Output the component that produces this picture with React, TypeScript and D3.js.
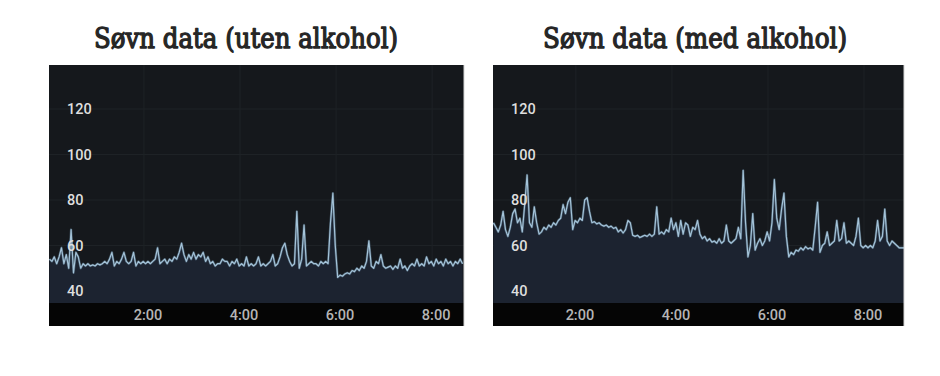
import React from 'react';
import * as d3 from 'd3';

// ---- data ----
const yTicks = [40, 60, 80, 100, 120];
const xTicks = [2, 4, 6, 8];
const xTickLabels = ['2:00', '4:00', '6:00', '8:00'];
const titles = ['Søvn data (uten alkohol)', 'Søvn data (med alkohol)'];
const stepHours = 0.05;
const startWithout = -0.05;
const startWith = 0.2;

const hrWithout = [
  54, 53, 55, 52, 55, 59, 52, 56, 50, 67, 48, 57, 55, 50, 52, 51, 52, 51, 51.5, 51,
  52, 51.5, 52, 53, 52, 54, 57, 51, 53, 52, 54, 57, 53, 52, 53, 57, 51, 53, 52, 53,
  52, 53, 52, 53, 54, 59, 52, 53, 54, 52, 54, 53, 55, 54, 57, 61, 56, 53, 56, 54,
  57, 54, 56, 55, 57, 53, 55, 52, 53, 51, 52, 52, 54, 53, 53, 51, 53, 52, 54, 51,
  52, 51, 55, 51, 52, 51, 52, 55, 51, 52, 51, 52, 53, 56, 51, 52, 55, 59, 61, 56,
  53, 51, 52, 75, 50, 54, 69, 51, 52, 53, 52, 52, 51, 53, 52, 53, 52, 70, 83, 60,
  46, 47, 46.5, 47.5, 48, 47.5, 49, 48.5, 50, 49, 51, 50, 53, 62, 51, 50, 53, 52, 56, 51,
  50, 50.5, 51, 49.5, 51, 50, 54, 50, 51, 49, 51, 52, 51, 54, 51, 52, 51, 55, 52, 53,
  51, 54, 52, 53, 51, 54, 52, 53, 51, 53, 52, 54, 52,
];

const hrWith = [
  70, 68, 66, 69, 75, 67, 64, 68, 74, 76, 70, 72, 66, 78, 91, 70, 68, 77, 70, 65,
  66, 68, 67, 69, 68, 70, 69, 71, 72, 78, 74, 79, 81, 67, 71, 70, 72, 71, 80, 81,
  75, 70, 70.5, 69.5, 70, 69, 68.5, 69, 68, 68.5, 67.5, 68, 66, 67, 65.5, 67, 71, 70, 64.5, 64,
  64.5, 63.5, 64, 64.5, 64, 65, 64, 65, 77, 65, 66, 65, 67, 66, 72, 67, 70, 64, 71, 65,
  70, 69, 64, 68, 67, 71, 65, 63, 64, 62, 63, 61.5, 62, 61, 63, 61, 62, 69, 62, 61,
  62, 63, 68, 63, 93, 70, 55, 60, 74, 58, 61, 63, 60, 62, 66, 62, 70, 89, 72, 67,
  76, 83, 64, 55, 57, 56, 58, 57.5, 59, 58, 59.5, 58.5, 59, 58, 68, 79, 57, 60, 61, 66,
  60, 61, 62, 71, 62, 63, 70, 61, 62, 61, 60, 64, 72, 60, 59, 60, 59, 60, 59, 62,
  71, 62, 64, 76, 62, 60, 62, 61, 60, 59, 59, 59,
];

// ---- layout ----
const W = 940;
const H = 376;
const panelTop = 65;
const plotBottom = 303;
const bandBottom = 326;

type PanelProps = {
  id: string;
  left: number;
  right: number;
  domain: [number, number];
  values: number[];
  start: number;
  title: string;
  titleCx: number;
};

function Panel({ id, left, right, domain, values, start, title, titleCx }: PanelProps) {
  const x = d3.scaleLinear().domain(domain).range([left, right]);
  const y = d3.scaleLinear().domain([40, 120]).range([291, 109]);
  const pts = values.map((v, i) => ({ t: start + i * stepHours, v }));
  const line = d3
    .line<{ t: number; v: number }>()
    .x((d) => x(d.t))
    .y((d) => y(d.v));
  const area = d3
    .area<{ t: number; v: number }>()
    .x((d) => x(d.t))
    .y0(plotBottom)
    .y1((d) => y(d.v));
  const clipId = `clip-${id}`;
  return (
    <g>
      <text
        x={titleCx}
        y={48}
        textAnchor="middle"
        fontFamily="'DejaVu Serif', serif"
        fontWeight="normal"
        fontSize={27}
        fill="#262626"
        stroke="#262626"
        strokeWidth={1.3}
        strokeLinejoin="round"
        textLength={304}
        lengthAdjust="spacingAndGlyphs"
      >
        {title}
      </text>
      <defs>
        <clipPath id={clipId}>
          <rect x={left} y={panelTop} width={right - left} height={plotBottom - panelTop} />
        </clipPath>
      </defs>
      <rect x={left} y={panelTop} width={right - left} height={bandBottom - panelTop} fill="#15181c" />
      {yTicks.map((t) => (
        <line key={`gy${t}`} x1={left} x2={right} y1={y(t)} y2={y(t)} stroke="#1e2226" strokeWidth={1} />
      ))}
      {xTicks.map((t) => (
        <line key={`gx${t}`} x1={x(t) - 4} x2={x(t) - 4} y1={panelTop} y2={plotBottom} stroke="#1e2226" strokeWidth={1} />
      ))}
      <g clipPath={`url(#${clipId})`}>
        <path d={area(pts) || ''} fill="#1c2330" />
        <path d={line(pts) || ''} fill="none" stroke="#6f93ad" strokeWidth={2.4} strokeOpacity={0.45} strokeLinejoin="round" />
        <path d={line(pts) || ''} fill="none" stroke="#a4c3d8" strokeWidth={1.2} strokeLinejoin="round" />
      </g>
      {yTicks.map((t) => (
        <text
          key={`ly${t}`}
          x={left + 18}
          y={y(t)}
          dy="0.35em"
          fontFamily="Roboto, sans-serif"
          fontWeight={500}
          fontSize={14.5}
          fill="#dedede"
        >
          {t}
        </text>
      ))}
      <rect x={left} y={plotBottom} width={right - left} height={bandBottom - plotBottom} fill="#050505" />
      {xTicks.map((t, i) => (
        <text
          key={`lx${t}`}
          x={x(t)}
          y={315}
          dy="0.35em"
          textAnchor="middle"
          fontFamily="Roboto, sans-serif"
          fontWeight={500}
          fontSize={14.5}
          fill="#b5b5b5"
        >
          {xTickLabels[i]}
        </text>
      ))}
      <line x1={right} x2={right} y1={panelTop} y2={bandBottom} stroke="#d6d6d6" strokeWidth={1} />
    </g>
  );
}

export default function App() {
  return (
    <svg
      width={W}
      height={H}
      style={{ position: 'absolute', left: 0, top: 0, background: '#ffffff' }}
    >
      <rect x={0} y={0} width={W} height={H} fill="#ffffff" />
      <Panel
        id="a"
        left={49}
        right={464}
        domain={[-0.06, 8.58]}
        values={hrWithout}
        start={startWithout}
        title={titles[0]}
        titleCx={246}
      />
      <Panel
        id="b"
        left={493}
        right={904}
        domain={[0.19, 8.75]}
        values={hrWith}
        start={startWith}
        title={titles[1]}
        titleCx={695}
      />
    </svg>
  );
}
